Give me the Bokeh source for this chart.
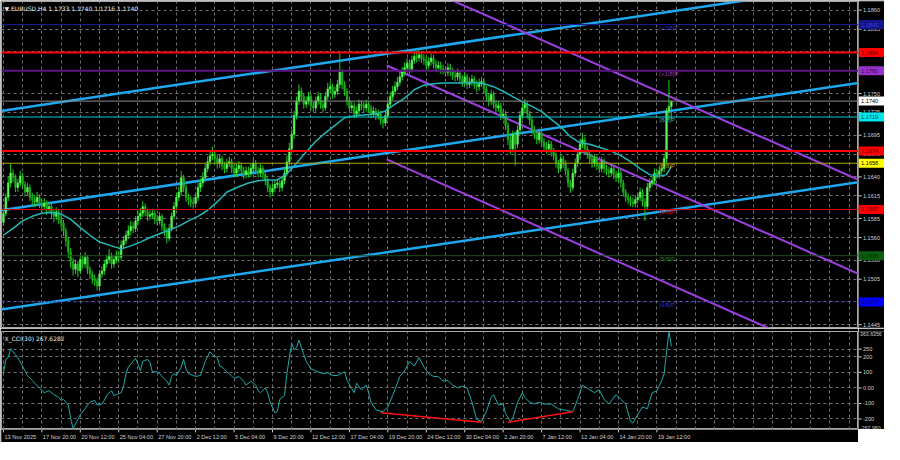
from bokeh.plotting import figure
from bokeh.models import Range1d, FixedTicker, Label, Span, Grid, Spacer
from bokeh.layouts import column, row
from bokeh.embed import file_html
from bokeh.resources import INLINE
from bokeh.core.properties import value

# ---------------- data (EURUSD H4) ----------------
first_open = 1.1580
closes = [1.1592,1.1613,1.1632,1.1645,1.1639,1.1626,1.1632,1.1641,1.1630,1.1620,
1.1626,1.1613,1.1610,1.1607,1.1613,1.1605,1.1601,1.1605,1.1597,1.1601,
1.1592,1.1588,1.1594,1.1584,1.1579,1.1569,1.1556,1.1541,1.1529,1.1518,
1.1525,1.1516,1.1531,1.1525,1.1534,1.1518,1.1512,1.1506,1.1503,1.1496,
1.1512,1.1516,1.1525,1.1531,1.1537,1.1525,1.1531,1.1537,1.1534,1.1550,
1.1556,1.1563,1.1569,1.1575,1.1572,1.1582,1.1588,1.1592,1.1601,1.1594,
1.1588,1.1590,1.1592,1.1584,1.1582,1.1588,1.1575,1.1569,1.1559,1.1572,
1.1588,1.1601,1.1613,1.1620,1.1639,1.1626,1.1613,1.1610,1.1607,1.1605,
1.1613,1.1626,1.1632,1.1639,1.1651,1.1660,1.1668,1.1670,1.1664,1.1658,
1.1664,1.1655,1.1651,1.1658,1.1660,1.1651,1.1645,1.1651,1.1655,1.1648,
1.1643,1.1648,1.1645,1.1651,1.1658,1.1648,1.1645,1.1651,1.1643,1.1635,
1.1626,1.1620,1.1625,1.1630,1.1632,1.1626,1.1635,1.1645,1.1660,1.1677,
1.1696,1.1721,1.1740,1.1753,1.1746,1.1736,1.1740,1.1746,1.1734,1.1731,
1.1740,1.1746,1.1736,1.1731,1.1746,1.1756,1.1759,1.1749,1.1753,1.1762,
1.1778,1.1762,1.1753,1.1740,1.1731,1.1734,1.1723,1.1727,1.1736,1.1734,
1.1731,1.1736,1.1731,1.1723,1.1727,1.1721,1.1723,1.1715,1.1711,1.1721,
1.1736,1.1746,1.1753,1.1759,1.1765,1.1772,1.1778,1.1784,1.1790,1.1782,
1.1794,1.1799,1.1797,1.1801,1.1796,1.1794,1.1787,1.1792,1.1797,1.1789,
1.1784,1.1787,1.1782,1.1781,1.1778,1.1784,1.1779,1.1774,1.1772,1.1777,
1.1769,1.1765,1.1772,1.1762,1.1765,1.1769,1.1762,1.1759,1.1764,1.1766,
1.1756,1.1746,1.1740,1.1749,1.1736,1.1731,1.1734,1.1721,1.1723,1.1708,
1.1689,1.1677,1.1696,1.1683,1.1702,1.1721,1.1731,1.1736,1.1723,1.1715,
1.1702,1.1696,1.1689,1.1698,1.1686,1.1680,1.1677,1.1683,1.1673,1.1668,
1.1658,1.1651,1.1664,1.1658,1.1648,1.1632,1.1626,1.1645,1.1658,1.1670,
1.1683,1.1689,1.1677,1.1670,1.1664,1.1658,1.1664,1.1655,1.1651,1.1660,
1.1651,1.1648,1.1645,1.1651,1.1643,1.1639,1.1645,1.1632,1.1620,1.1613,
1.1610,1.1607,1.1605,1.1610,1.1613,1.1620,1.1607,1.1601,1.1626,1.1632,
1.1635,1.1645,1.1643,1.1648,1.1651,1.1664,1.1727,1.1733,1.1740]

highs = [1.1598,1.1618,1.1640,1.1658,1.1650,1.1643,1.1637,1.1648,1.1645,1.1634,
1.1632,1.1630,1.1619,1.1616,1.1620,1.1617,1.1610,1.1612,1.1609,1.1607,
1.1605,1.1597,1.1600,1.1598,1.1590,1.1583,1.1573,1.1560,1.1546,1.1533,
1.1531,1.1529,1.1538,1.1536,1.1541,1.1537,1.1522,1.1516,1.1511,1.1507,
1.1517,1.1522,1.1530,1.1537,1.1545,1.1540,1.1536,1.1543,1.1542,1.1556,
1.1562,1.1569,1.1576,1.1582,1.1580,1.1588,1.1595,1.1599,1.1608,1.1605,
1.1598,1.1596,1.1598,1.1596,1.1590,1.1594,1.1591,1.1579,1.1573,1.1578,
1.1593,1.1607,1.1619,1.1627,1.1648,1.1643,1.1630,1.1618,1.1615,1.1613,
1.1619,1.1632,1.1638,1.1646,1.1657,1.1667,1.1675,1.1680,1.1675,1.1669,
1.1670,1.1668,1.1660,1.1664,1.1667,1.1664,1.1656,1.1657,1.1661,1.1659,
1.1653,1.1654,1.1653,1.1657,1.1664,1.1662,1.1653,1.1657,1.1655,1.1647,
1.1639,1.1630,1.1631,1.1636,1.1638,1.1636,1.1641,1.1651,1.1668,1.1685,
1.1702,1.1727,1.1746,1.1762,1.1758,1.1750,1.1746,1.1752,1.1750,1.1739,
1.1746,1.1752,1.1750,1.1741,1.1752,1.1764,1.1766,1.1763,1.1759,1.1768,
1.1806,1.1782,1.1766,1.1757,1.1744,1.1740,1.1738,1.1733,1.1742,1.1741,
1.1739,1.1742,1.1740,1.1735,1.1733,1.1731,1.1729,1.1727,1.1720,1.1727,
1.1742,1.1752,1.1760,1.1766,1.1772,1.1779,1.1785,1.1791,1.1797,1.1795,
1.1800,1.1806,1.1805,1.1808,1.1806,1.1802,1.1799,1.1798,1.1803,1.1801,
1.1794,1.1793,1.1792,1.1788,1.1786,1.1790,1.1789,1.1784,1.1780,1.1783,
1.1781,1.1774,1.1778,1.1776,1.1771,1.1775,1.1773,1.1767,1.1770,1.1772,
1.1770,1.1760,1.1750,1.1755,1.1753,1.1741,1.1740,1.1738,1.1729,1.1727,
1.1712,1.1694,1.1701,1.1700,1.1708,1.1727,1.1737,1.1743,1.1740,1.1727,
1.1719,1.1707,1.1700,1.1704,1.1702,1.1691,1.1686,1.1689,1.1687,1.1678,
1.1672,1.1662,1.1670,1.1668,1.1662,1.1652,1.1636,1.1651,1.1664,1.1676,
1.1690,1.1698,1.1693,1.1681,1.1674,1.1668,1.1670,1.1668,1.1660,1.1666,
1.1664,1.1656,1.1653,1.1657,1.1655,1.1648,1.1651,1.1649,1.1636,1.1624,
1.1618,1.1615,1.1613,1.1616,1.1619,1.1626,1.1624,1.1612,1.1632,1.1638,
1.1641,1.1651,1.1650,1.1654,1.1657,1.1670,1.1731,1.1768,1.1740]

lows = [1.1575,1.1588,1.1608,1.1626,1.1633,1.1620,1.1620,1.1628,1.1625,1.1614,
1.1615,1.1608,1.1603,1.1600,1.1602,1.1599,1.1594,1.1596,1.1590,1.1592,
1.1586,1.1580,1.1583,1.1578,1.1572,1.1562,1.1548,1.1533,1.1520,1.1510,
1.1512,1.1508,1.1512,1.1519,1.1520,1.1512,1.1505,1.1499,1.1496,1.1490,
1.1492,1.1507,1.1511,1.1520,1.1526,1.1519,1.1520,1.1526,1.1527,1.1530,
1.1545,1.1551,1.1558,1.1563,1.1566,1.1567,1.1577,1.1583,1.1587,1.1588,
1.1582,1.1583,1.1585,1.1578,1.1576,1.1577,1.1569,1.1562,1.1552,1.1555,
1.1568,1.1584,1.1596,1.1608,1.1615,1.1620,1.1607,1.1603,1.1600,1.1598,
1.1600,1.1608,1.1620,1.1627,1.1634,1.1646,1.1655,1.1662,1.1658,1.1651,
1.1652,1.1649,1.1645,1.1646,1.1653,1.1645,1.1639,1.1640,1.1646,1.1642,
1.1637,1.1638,1.1639,1.1640,1.1646,1.1643,1.1639,1.1640,1.1637,1.1629,
1.1620,1.1613,1.1615,1.1620,1.1625,1.1620,1.1621,1.1630,1.1641,1.1655,
1.1672,1.1690,1.1716,1.1735,1.1740,1.1730,1.1731,1.1735,1.1728,1.1725,
1.1726,1.1735,1.1730,1.1725,1.1727,1.1741,1.1750,1.1743,1.1744,1.1748,
1.1757,1.1756,1.1747,1.1734,1.1725,1.1726,1.1717,1.1718,1.1722,1.1728,
1.1725,1.1726,1.1725,1.1717,1.1718,1.1715,1.1716,1.1709,1.1704,1.1707,
1.1716,1.1731,1.1741,1.1748,1.1754,1.1760,1.1767,1.1773,1.1779,1.1776,
1.1778,1.1789,1.1791,1.1792,1.1790,1.1788,1.1781,1.1782,1.1787,1.1783,
1.1778,1.1779,1.1776,1.1775,1.1772,1.1773,1.1773,1.1768,1.1766,1.1767,
1.1763,1.1759,1.1760,1.1756,1.1757,1.1760,1.1756,1.1752,1.1754,1.1759,
1.1750,1.1740,1.1733,1.1735,1.1730,1.1725,1.1726,1.1715,1.1716,1.1702,
1.1682,1.1670,1.1672,1.1655,1.1678,1.1697,1.1716,1.1726,1.1717,1.1709,
1.1696,1.1690,1.1683,1.1684,1.1680,1.1674,1.1671,1.1672,1.1667,1.1662,
1.1652,1.1645,1.1647,1.1652,1.1642,1.1626,1.1619,1.1622,1.1640,1.1653,
1.1665,1.1678,1.1671,1.1664,1.1658,1.1652,1.1653,1.1649,1.1645,1.1646,
1.1645,1.1642,1.1639,1.1640,1.1637,1.1633,1.1634,1.1626,1.1614,1.1607,
1.1604,1.1601,1.1600,1.1600,1.1605,1.1608,1.1601,1.1582,1.1597,1.1621,
1.1627,1.1630,1.1637,1.1638,1.1643,1.1646,1.1658,1.1715,1.1716]

# moving average (bar index, value)
ma_idx = [0,4,8,12,16,20,24,28,32,36,40,45,49,53,57,61,65,69,73,77,
81,85,89,93,98,102,106,110,114,118,122,126,130,134,138,142,147,151,155,159,
163,167,171,175,179,183,187,191,195,200,204,208,212,216,220,224,228,232,236,240,
244,248,253,257,261,265,269,273,276,278]
ma_val = [1.1563,1.1572,1.1582,1.1588,1.1592,1.1593,1.1591,1.1584,1.1573,1.1563,
1.1554,1.1549,1.1545,1.1549,1.1554,1.1560,1.1565,1.1570,1.1575,1.1582,
1.1588,1.1596,1.1607,1.1620,1.1627,1.1632,1.1635,1.1636,1.1636,1.1644,
1.1658,1.1673,1.1687,1.1698,1.1708,1.1718,1.1721,1.1722,1.1723,1.1727,
1.1736,1.1744,1.1755,1.1761,1.1763,1.1764,1.1764,1.1764,1.1765,1.1763,
1.1759,1.1753,1.1746,1.1739,1.1733,1.1726,1.1716,1.1706,1.1693,1.1685,
1.1683,1.1679,1.1674,1.1668,1.1660,1.1651,1.1643,1.1641,1.1643,1.1654]

# X_CCI(30) (bar index, value)
cci_idx = [0,1,2,3,5,6,7,9,10,12,13,15,17,19,21,23,24,25,27,28,
29,31,32,34,35,36,38,39,41,42,43,45,46,47,49,50,51,52,54,55,
56,57,58,60,61,62,64,65,66,68,69,70,71,72,74,75,76,77,79,80,
82,84,86,87,89,90,91,93,94,96,98,100,101,103,105,106,107,109,110,111,
113,114,115,117,118,119,120,121,122,123,125,126,128,130,133,135,137,139,142,143,
146,147,149,151,152,153,155,158,160,162,165,167,169,171,173,175,177,179,181,183,
185,187,189,191,193,195,197,199,201,203,204,206,208,209,211,212,214,216,217,219,
221,223,225,228,231,233,237,239,241,244,246,248,250,252,255,257,259,261,262,264,
266,268,270,272,274,275,276,277,278]
cci_val = [92,184,196,252,215,196,166,110,80,49,31,0,-31,-18,-43,-61,-80,-74,-110,-196,
-262,-203,-172,-135,-110,-92,-80,-110,-104,-80,-49,-18,-49,-43,-31,12,92,135,172,190,
153,110,172,184,166,104,104,92,74,43,18,74,92,80,135,184,123,92,80,74,
80,172,233,215,196,141,135,104,92,61,74,43,18,43,18,-18,-31,0,-31,-92,
-160,-153,-74,-49,92,196,288,245,260,307,215,172,123,110,92,98,80,80,104,49,
-31,31,-12,18,-31,-92,-141,-153,-123,-49,74,110,172,141,196,135,92,74,74,43,
49,18,0,12,0,-92,-203,-215,-153,-61,-43,-110,-104,-166,-215,-196,-92,-31,-61,-92,
-104,-92,-104,-104,-135,-141,-153,-74,18,-12,-31,-12,-74,-104,-43,-74,-104,-215,-227,-172,
-123,-135,-31,-18,49,92,233,363.6,267.6]
cci_min, cci_max = -267.960, 363.6356

# CCI divergence lines
div1_x, div1_y = [157, 199], [-160, -221]
div2_x, div2_y = [210, 237], [-221, -153]

# rising channel (blue) anchors
chan_x = [-1, 356]
chan_top = [1.1727, 1.1895]
chan_mid = [1.1596, 1.1764]
chan_low = [1.1465, 1.1633]
# falling channel (purple)
pch_x = [159.5, 356]
pch_top = [1.1911, 1.1636]
pch_mid = [1.1787, 1.1512]
pch_low = [1.1663, 1.1388]

# horizontal levels
lvl_price = [1.1841, 1.1804, 1.1780, 1.1740, 1.1719, 1.1674, 1.1658, 1.1597, 1.1536, 1.1475]
# Murrey math tags
tag_text = ["[+2/8]P", "[+1/8]P", "[8/8]P", "[7/8]P", "[6/8]P", "[5/8]P", "[4/8]P"]
tag_price = [1.1841, 1.1780, 1.1719, 1.1658, 1.1597, 1.1536, 1.1475]

price_ticks = [1.1860, 1.1835, 1.1805, 1.1780, 1.1750, 1.1725, 1.1695, 1.1670, 1.1640,
               1.1615, 1.1585, 1.1560, 1.1530, 1.1505, 1.1475, 1.1445]
cci_ticks = [250, 200, 100, 0, -100, -200]
cci_tick_txt = ["250", "200", "100", "0.00", "-100", "-200"]
date_idx = [0, 16, 32, 48, 64, 80, 96, 112, 128, 144, 160, 176, 192, 208, 224, 240, 256, 272]
date_txt = ["13 Nov 2025", "17 Nov 20:00", "20 Nov 12:00", "25 Nov 04:00", "27 Nov 20:00",
            "2 Dec 12:00", "5 Dec 04:00", "9 Dec 20:00", "12 Dec 12:00", "17 Dec 04:00",
            "19 Dec 20:00", "24 Dec 12:00", "30 Dec 04:00", "2 Jan 20:00", "7 Jan 12:00",
            "12 Jan 04:00", "14 Jan 20:00", "19 Jan 12:00"]
title_txt = "\u25bc EURUSD,H4  1.1733 1.1740 1.1716 1.1740"
cci_title = "X_CCI(30) 267.6282"

# ---------------- styles ----------------
FONT = "Liberation Sans"
FS = "5.6px"
AXC = "#d0d0d0"
GRIDC = "#707070"
X0, X1 = -0.8, 355.9
Y0, Y1 = 1.14413, 1.18714
FW, AW = 857, 26          # frame width of panels, width of price-scale column
MH, CH, DH = 326, 98, 13  # heights

lvl_style = [  # color, width, dash
    ("#1c1c96", 1, "solid"), ("#ff0000", 2, "solid"), ("#5c1682", 2, "solid"),
    ("#8c8c8c", 1, "solid"), ("#00c8d2", 1, "solid"), ("#ff0000", 2, "solid"),
    ("#a8a800", 1, "solid"), ("#e00000", 1, "solid"), ("#1e4f1e", 1, "solid"),
    ("#2020b0", 1, "2 2")]
lbl_bg = ["#14148c", "#ff0000", "#9932cc", "#ffffff", "#00e5ee", "#ff0000",
          "#ffff00", "#ff0000", "#0b5e0b", "#0000ff"]
lbl_fg = ["#4040d8", "#5a0000", "#3c0a5a", "#000000", "#004a4a", "#5a0000",
          "#000000", "#5a0000", "#022a02", "#00005a"]
tag_col = ["#2a2ab4", "#8a3ad0", "#28a8b8", "#b8a800", "#d01010", "#2c7a2c", "#2a2ad0"]


def base(**kw):
    f = figure(output_backend="svg", toolbar_location=None, x_axis_location=None,
               y_axis_location=None, background_fill_color="black",
               border_fill_color="black", **kw)
    f.grid.visible = False
    return f


xr = Range1d(X0, X1)

# ---------------- main panel ----------------
p = base(x_range=xr, y_range=Range1d(Y0, Y1), frame_width=FW, frame_height=MH,
         min_border_left=1, min_border_right=0, min_border_top=1, min_border_bottom=1,
         outline_line_color="#a8a8a8")
p.add_layout(Grid(dimension=0, ticker=FixedTicker(ticks=list(range(0, 356, 8))),
                  grid_line_color=GRIDC, grid_line_dash="3 3"))
p.add_layout(Grid(dimension=1, ticker=FixedTicker(ticks=price_ticks),
                  grid_line_color=GRIDC, grid_line_dash="3 3"))

for pr, (c, w, d) in zip(lvl_price, lvl_style):
    p.add_layout(Span(location=pr, dimension="width", line_color=c, line_width=w, line_dash=d))

for ys in (chan_top, chan_mid, chan_low):
    p.line(chan_x, ys, line_color="#1ea8f0", line_width=2.5)
for ys in (pch_top, pch_mid, pch_low):
    p.line(pch_x, ys, line_color="#9b3fe0", line_width=2)

idx = list(range(len(closes)))
opens = [first_open] + closes[:-1]
b_top = [max(o, c) for o, c in zip(opens, closes)]
b_bot = [min(o, c) for o, c in zip(opens, closes)]
b_col = ["#5cf55c" if c >= o else "#1faa1f" for o, c in zip(opens, closes)]
p.segment(x0=idx, y0=lows, x1=idx, y1=highs, line_color="#18d018", line_width=1)
p.vbar(x=idx, width=0.72, top=b_top, bottom=b_bot, fill_color=b_col, line_color=b_col,
       line_width=0.5)

p.line(ma_idx, ma_val, line_color="#22b8b8", line_width=1.5)

p.text(x=[273] * len(tag_text), y=tag_price, text=tag_text, text_color=tag_col,
       text_font=value(FONT), text_font_size="6px", text_baseline="top", text_align="left")

p.add_layout(Label(x=X0, y=Y1, x_offset=3, y_offset=-3, text=title_txt, text_font="DejaVu Sans",
                   text_font_size="6px", text_color="#e8e8e8", text_baseline="top"))

# price scale column (shares the main y scale)
pa = base(x_range=Range1d(0, 1), y_range=p.y_range, frame_width=AW, frame_height=MH,
          min_border_left=0, min_border_right=0, min_border_top=1, min_border_bottom=1,
          outline_line_color=None)
nt = len(price_ticks)
pa.segment(x0=[0] * nt, y0=price_ticks, x1=[0.12] * nt, y1=price_ticks, line_color=AXC)
pa.text(x=[0.17] * nt, y=price_ticks, text=["%.4f" % t for t in price_ticks],
        text_color=AXC, text_font=value(FONT), text_font_size=FS, text_baseline="middle")
nl = len(lvl_price)
pa.rect(x=[0.5] * nl, y=lvl_price, width=1, height=9, height_units="screen",
        fill_color=lbl_bg, line_color=None)
pa.text(x=[0.1] * nl, y=lvl_price, text=["%.4f" % t for t in lvl_price],
        text_color=lbl_fg, text_font=value(FONT), text_font_size=FS, text_baseline="middle")

# ---------------- CCI panel ----------------
q = base(x_range=xr, y_range=Range1d(cci_min, cci_max), frame_width=FW, frame_height=CH,
         min_border_left=1, min_border_right=0, min_border_top=3, min_border_bottom=0,
         outline_line_color="#a8a8a8")
q.add_layout(Grid(dimension=0, ticker=FixedTicker(ticks=list(range(0, 356, 8))),
                  grid_line_color=GRIDC, grid_line_dash="3 3"))
q.add_layout(Grid(dimension=1, ticker=FixedTicker(ticks=cci_ticks),
                  grid_line_color=GRIDC, grid_line_dash="3 3"))
q.line(cci_idx, cci_val, line_color="#1eaaaa", line_width=1)
q.line(div1_x, div1_y, line_color="#ff1010", line_width=1.5)
q.line(div2_x, div2_y, line_color="#ff1010", line_width=1.5)
q.add_layout(Label(x=X0, y=cci_max, x_offset=3, y_offset=-3, text=cci_title,
                   text_font="DejaVu Sans", text_font_size="6px", text_color="#e8e8e8",
                   text_baseline="top"))

qa = base(x_range=Range1d(0, 1), y_range=q.y_range, frame_width=AW, frame_height=CH,
          min_border_left=0, min_border_right=0, min_border_top=3, min_border_bottom=0,
          outline_line_color=None)
nc = len(cci_ticks)
qa.segment(x0=[0] * nc, y0=cci_ticks, x1=[0.12] * nc, y1=cci_ticks, line_color=AXC)
qa.text(x=[0.17] * nc, y=cci_ticks, text=cci_tick_txt, text_color=AXC,
        text_font=value(FONT), text_font_size=FS, text_baseline="middle")
qa.text(x=[0.06, 0.06], y=[cci_max, cci_min], text=["%.4f" % cci_max, "%.3f" % cci_min],
        text_color=AXC, text_font=value(FONT), text_font_size="5.2px",
        text_baseline=["top", "bottom"])

# ---------------- time scale ----------------
pd_ = base(x_range=xr, y_range=Range1d(0, 1), frame_width=FW, frame_height=DH,
           min_border_left=1, min_border_right=0, min_border_top=0, min_border_bottom=0,
           outline_line_color=None)
nd = len(date_idx)
pd_.segment(x0=date_idx, y0=[1] * nd, x1=date_idx, y1=[0.78] * nd, line_color=AXC)
pd_.text(x=date_idx, y=[0.42] * nd, text=date_txt, text_color=AXC, text_font=value(FONT),
         text_font_size=FS, text_baseline="middle", text_align="left", x_offset=1)

layout = column(row(p, pa), row(q, qa), row(pd_, Spacer(width=AW, height=DH)))
html = file_html(layout, INLINE, title="EURUSD H4")
html = html.replace("<body>", '<body style="background:#000000">', 1)
open("out.html", "w").write(html)
